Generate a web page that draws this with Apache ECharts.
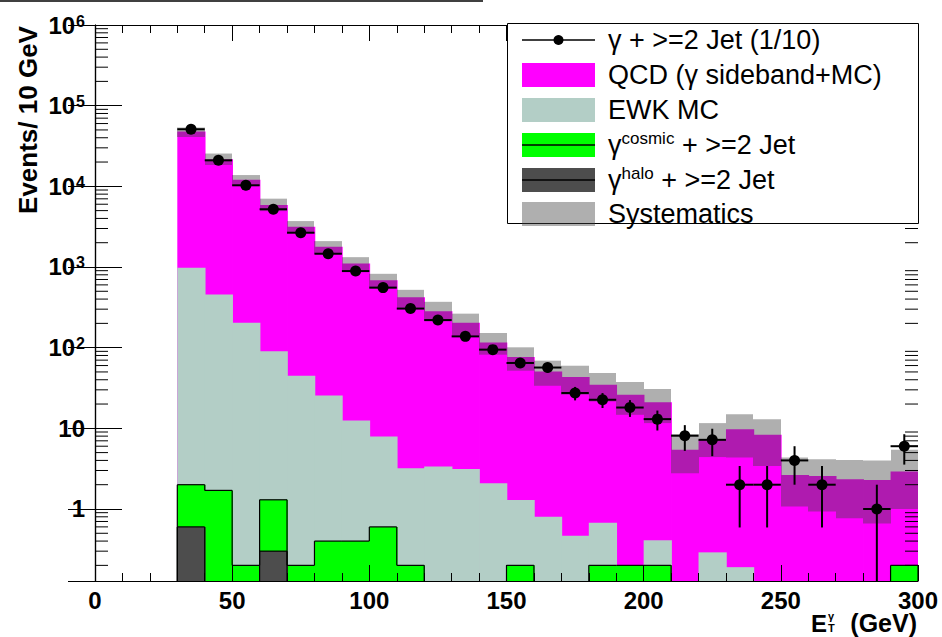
<!DOCTYPE html>
<html>
<head>
<meta charset="utf-8">
<script src="https://cdn.jsdelivr.net/npm/echarts@6/dist/echarts.min.js"></script>
<style>
html,body{margin:0;padding:0;background:#fff;}
#chart{width:942px;height:637px;}
</style>
</head>
<body>
<div id="chart"></div>
<script>
// ---------------- data ----------------
const binLowEdges = [30,40,50,60,70,80,90,100,110,120,130,140,150,160,170,180,190,200,210,220,230,240,250,260,270,280,290];
const binWidth = 10;
// data points: gamma + >=2 Jet (scaled 1/10)
const dataValues = [51000,21000,10300,5200,2660,1460,890,555,305,220,138,94.5,64.6,56.7,27.4,22.6,18.1,13.0,8.1,7.2,2,2,4,2,null,1,6];
const dataErrors = [226,145,101,72,52,38,30,23.6,17.5,14.8,11.7,9.7,8.0,7.5,5.2,4.75,4.25,3.6,2.85,2.68,1.41,1.41,2.0,1.41,null,1.0,2.45];
// visible tops of the stacked histograms
const totalStack  = [47800,21650,12100,5860,3160,1782,1105,686,422,282,203,116,76.6,50.8,43.3,34.7,26.1,21.1,5.41,7.2,9.77,8.3,2.64,2.57,2.34,2.29,2.91];
const ewkStack    = [977,455,203,90,44.9,25.6,12.5,7.9,3.2,3.36,3.14,2.08,1.29,0.80,0.466,0.676,0.2,0.41,0,0.29,0.19,0,0,0,0,0,0.2];
const cosmicStack = [2.0,1.7,0.2,1.3,0.2,0.4,0.4,0.6,0.2,0,0,0,0.2,0,0,0.2,0.2,0.2,0,0,0,0,0,0,0,0,0.2];
const haloStack   = [0.6,0,0,0.3,0,0,0,0,0,0,0,0,0,0,0,0,0,0,0,0,0,0,0,0,0,0,0];
// systematics band
const sysLow  = [40900,18400,10090,4930,2660,1459,888,541,303,212,141,81.8,51.8,33.7,26.1,21.5,14.7,11.6,2.77,4.4,4.36,3.42,1.07,0.93,0.77,0.66,1.0];
const sysHigh = [53600,25500,13800,7030,3710,2093,1324,823,521,370,264,152,101,69,59.7,48.5,37.5,30.7,8.47,11.6,14.9,13.0,4.34,4.14,4.06,3.98,5.41];
// axis ticks
const xTickLabels = [0,50,100,150,200,250,300];
const yDecades = [0.1,1,10,100,1000,10000,100000];
const yMinorMultipliers = [2,3,4,5,6,7,8,9];
const legendLabels = ['γ + >=2 Jet (1/10)','QCD (γ sideband+MC)','EWK MC','cosmic','halo','Systematics'];

// ---------------- styling ----------------
const Y_MIN = 0.128, Y_MAX = 1e6;
const FONT = 'Liberation Sans, Arial, Helvetica, sans-serif';
const C_QCD = '#ff00ff', C_EWK = '#b3cec6', C_COS = '#00ff00', C_HALO = '#4d4d4d';
const C_SYS = 'rgba(64,64,64,0.42)';

function clampY(v){ return (v > Y_MIN) ? v : Y_MIN; }

function histFill(values, color, z){
  return {
    type:'custom', coordinateSystem:'cartesian2d', z: z, silent:true,
    data: binLowEdges.map((x,i)=>[x, x+binWidth, values[i] > 0 ? values[i] : Y_MIN/2]),
    encode:{x:[0,1], y:2},
    renderItem(params, api){
      const x0 = api.value(0), x1 = api.value(1), v = api.value(2);
      if (!(v > Y_MIN)) return null;
      const p0 = api.coord([x0, Math.min(v, Y_MAX)]), p1 = api.coord([x1, Y_MIN]);
      const last = params.dataIndex === binLowEdges.length - 1;
      return {type:'rect', shape:{x:p0[0], y:p0[1], width:p1[0]-p0[0] + (last ? 0 : 0.8), height:p1[1]-p0[1]}, style:{fill:color}};
    }
  };
}

function histOutline(values, z){
  return {
    type:'custom', coordinateSystem:'cartesian2d', z: z, silent:true,
    data: binLowEdges.map((x,i)=>[x, x+binWidth, values[i] > 0 ? values[i] : Y_MIN/2]),
    encode:{x:[0,1], y:2},
    renderItem(params, api){
      const i = params.dataIndex;
      const x0 = api.value(0), x1 = api.value(1);
      const cur = clampY(values[i]);
      const prev = i > 0 ? clampY(values[i-1]) : Y_MIN;
      const kids = [];
      const st = {stroke:'#000', lineWidth:1.2};
      if (cur !== prev){
        const a = api.coord([x0, prev]), b = api.coord([x0, cur]);
        kids.push({type:'line', shape:{x1:a[0],y1:a[1],x2:b[0],y2:b[1]}, style:st});
      }
      if (cur > Y_MIN){
        const a = api.coord([x0, cur]), b = api.coord([x1, cur]);
        kids.push({type:'line', shape:{x1:a[0],y1:a[1],x2:b[0],y2:b[1]}, style:st});
        if (i === values.length-1){
          const c = api.coord([x1, Y_MIN]);
          kids.push({type:'line', shape:{x1:b[0],y1:b[1],x2:c[0],y2:c[1]}, style:st});
        }
      }
      return {type:'group', children:kids};
    }
  };
}

const bandSeries = {
  type:'custom', coordinateSystem:'cartesian2d', z:6, silent:true,
  data: binLowEdges.map((x,i)=>[x, x+binWidth, sysLow[i], sysHigh[i]]),
  encode:{x:[0,1], y:[2,3]},
  renderItem(params, api){
    const x0 = api.value(0), x1 = api.value(1), lo = clampY(api.value(2)), hi = api.value(3);
    const p0 = api.coord([x0, hi]), p1 = api.coord([x1, lo]);
    return {type:'rect', shape:{x:Math.round(p0[0]), y:p0[1], width:Math.round(p1[0])-Math.round(p0[0]), height:p1[1]-p0[1]}, style:{fill:C_SYS}};
  }
};

const dataSeries = {
  type:'custom', coordinateSystem:'cartesian2d', z:8, silent:true,
  data: binLowEdges.map((x,i)=>[x + binWidth/2, dataValues[i] == null ? Y_MIN/2 : dataValues[i], dataErrors[i] == null ? 0 : dataErrors[i]]),
  encode:{x:0, y:1},
  renderItem(params, api){
    const xc = api.value(0), v = api.value(1), e = api.value(2);
    if (!(v > Y_MIN)) return null;
    const st = {stroke:'#000', lineWidth:2};
    const l = api.coord([xc - binWidth/2, v]), r = api.coord([xc + binWidth/2, v]);
    const t = api.coord([xc, v + e]), b = api.coord([xc, clampY(v - e)]);
    const c = api.coord([xc, v]);
    return {type:'group', children:[
      {type:'line', shape:{x1:l[0],y1:l[1],x2:r[0],y2:r[1]}, style:st},
      {type:'line', shape:{x1:t[0],y1:t[1],x2:b[0],y2:b[1]}, style:st},
      {type:'circle', shape:{cx:c[0], cy:c[1], r:5.5}, style:{fill:'#000'}}
    ]};
  }
};

const minorVals = [];
yDecades.forEach(d => yMinorMultipliers.forEach(m => { const v = d*m; if (v > Y_MIN && v < Y_MAX) minorVals.push(v); }));
const minorTickSeries = {
  type:'custom', coordinateSystem:'cartesian2d', z:20, silent:true,
  data: minorVals.map(v => [0, v]),
  encode:{x:0, y:1},
  renderItem(params, api){
    const v = api.value(1);
    const a = api.coord([0, v]), b = api.coord([300, v]);
    const st = {stroke:'#000', lineWidth:1};
    return {type:'group', children:[
      {type:'line', shape:{x1:a[0],y1:a[1],x2:a[0]+13,y2:a[1]}, style:st},
      {type:'line', shape:{x1:b[0],y1:b[1],x2:b[0]-13,y2:b[1]}, style:st}
    ]};
  }
};

function yLabel(v){
  const lg = Math.log10(v), e = Math.round(lg);
  if (Math.abs(lg - e) > 1e-6) return '';
  if (e === 0) return '{b|1}';
  if (e === 1) return '{b|10}';
  if (e < 0) return '';
  return '{b|10}{s|' + e + '}';
}

const axisLineStyle = {show:true, lineStyle:{color:'#000', width:1.2}};
function xAxisDef(pos, showLabels){
  return {
    type:'value', min:0, max:300, interval:50, position:pos, z:30,
    axisLine: axisLineStyle,
    axisTick:{show:true, inside:true, length:16, lineStyle:{color:'#000', width:1}},
    minorTick:{show:true, splitNumber:5, length:8, lineStyle:{color:'#000', width:1}},
    splitLine:{show:false}, minorSplitLine:{show:false},
    axisLabel:{show:showLabels, color:'#000', fontFamily:FONT, fontWeight:'bold', fontSize:24, margin:7,
      formatter: v => (xTickLabels.indexOf(v) >= 0 ? String(v) : '')}
  };
}
function yAxisDef(pos, showLabels){
  return {
    type:'log', logBase:10, min:Y_MIN, max:Y_MAX, position:pos, z:30,
    axisLine: axisLineStyle,
    axisTick:{show:true, inside:true, length:27, lineStyle:{color:'#000', width:1}},
    splitLine:{show:false},
    axisLabel:{show:showLabels, margin:10, formatter: yLabel,
      rich:{
        b:{fontFamily:FONT, fontWeight:'bold', fontSize:24, color:'#000', lineHeight:24},
        s:{fontFamily:FONT, fontWeight:'bold', fontSize:16, color:'#000', lineHeight:16, verticalAlign:'top', padding:[0,0,6,1]}
      }}
  };
}

// ---------------- legend graphics ----------------
const LX0 = 522, LX1 = 595, LTX = 608;
const rowY = [40, 75, 110, 145, 180, 214];
const LZ = 110;
const txtStyle = {fontFamily:FONT, fontSize:27, fill:'#000', verticalAlign:'middle', align:'left'};
function swatch(y, fill){ return {type:'rect', z:LZ, shape:{x:LX0, y:y-12, width:LX1-LX0, height:24}, style:{fill:fill}}; }
function hline(y){ return {type:'line', z:LZ+1, shape:{x1:LX0, y1:y, x2:LX1, y2:y}, style:{stroke:'#000', lineWidth:1.5}}; }
function ltext(y, style){ return {type:'text', z:LZ+2, x:LTX, y:y, style:Object.assign({}, txtStyle, style)}; }
const supRich = {a:{fontFamily:FONT, fontSize:27, fill:'#000', lineHeight:30},
                 s:{fontFamily:FONT, fontSize:17, fill:'#000', verticalAlign:'top', lineHeight:17, padding:[0,0,4,0]}};
const legendGraphics = [
  {type:'rect', z:100, shape:{x:507.5, y:23.5, width:411, height:200}, style:{fill:'#fff', stroke:'#000', lineWidth:1}},
  hline(rowY[0]),
  {type:'circle', z:LZ+2, shape:{cx:(LX0+LX1)/2, cy:rowY[0], r:5}, style:{fill:'#000'}},
  ltext(rowY[0], {text:legendLabels[0]}),
  swatch(rowY[1], C_QCD),
  ltext(rowY[1], {text:legendLabels[1]}),
  swatch(rowY[2], C_EWK),
  ltext(rowY[2], {text:legendLabels[2]}),
  swatch(rowY[3], C_COS), hline(rowY[3]),
  ltext(rowY[3], {text:'{a|γ}{s|' + legendLabels[3] + '}{a| + >=2 Jet}', rich:supRich}),
  swatch(rowY[4], C_HALO), hline(rowY[4]),
  ltext(rowY[4], {text:'{a|γ}{s|' + legendLabels[4] + '}{a| + >=2 Jet}', rich:supRich}),
  swatch(rowY[5], C_SYS),
  ltext(rowY[5], {text:legendLabels[5]}),
  // axis titles
  {type:'text', x:28, y:120, rotation:Math.PI/2, z:100,
    style:{text:'Events/ 10 GeV', fontFamily:FONT, fontWeight:'bold', fontSize:26, fill:'#000', align:'center', verticalAlign:'middle'}},
  {type:'text', z:100, x:811, y:623, style:{text:'E', fontFamily:FONT, fontWeight:'bold', fontSize:24, fill:'#000', align:'left', verticalAlign:'middle'}},
  {type:'text', z:100, x:828, y:616, style:{text:'γ', fontFamily:FONT, fontWeight:'bold', fontSize:11, fill:'#000', align:'left', verticalAlign:'middle'}},
  {type:'text', z:100, x:828, y:628, style:{text:'T', fontFamily:FONT, fontWeight:'bold', fontSize:11, fill:'#000', align:'left', verticalAlign:'middle'}},
  {type:'text', z:100, x:917, y:623, style:{text:'(GeV)', fontFamily:FONT, fontWeight:'bold', fontSize:25, fill:'#000', align:'right', verticalAlign:'middle'}},
  // thin line at the very top of the image
  {type:'line', z:100, shape:{x1:0, y1:1, x2:483, y2:1}, style:{stroke:'#000', lineWidth:1.5}}
];

const chart = echarts.init(document.getElementById('chart'), null, {renderer:'svg', width:942, height:637});
chart.setOption({
  animation:false,
  backgroundColor:'#fff',
  grid:{left:95, right:24, top:25, bottom:56, containLabel:false},
  xAxis:[xAxisDef('bottom', true), xAxisDef('top', false)],
  yAxis:[yAxisDef('left', true), yAxisDef('right', false)],
  series:[
    histFill(totalStack, C_QCD, 1),
    histFill(ewkStack, C_EWK, 2),
    histFill(cosmicStack, C_COS, 3),
    histFill(haloStack, C_HALO, 4),
    histOutline(cosmicStack, 5),
    histOutline(haloStack, 5),
    bandSeries,
    dataSeries,
    minorTickSeries
  ],
  graphic: legendGraphics
});
</script>
</body>
</html>
